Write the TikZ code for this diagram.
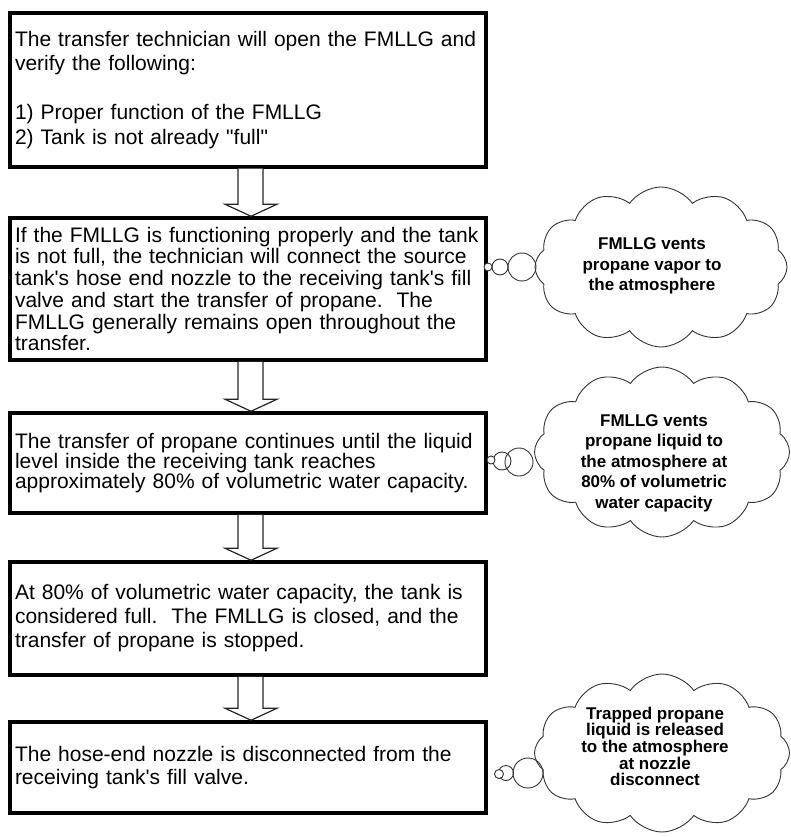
\documentclass[tikz,border=0pt]{standalone}
\usepackage{fontspec}
\newfontfamily\arialf{Liberation Sans}
\usetikzlibrary{shapes.symbols,calc}
\tikzset{
  stepbox/.style={draw, line width=3.5pt, minimum width=476pt, inner xsep=5pt, inner ysep=0pt,
    text width=466pt, align=left, anchor=center},
  boxfont/.style={font=\arialf\fontsize{21}{#1}\selectfont},
  barrow/.style={draw=black!85, line width=1.2pt, fill=white, line join=miter},
  cloudshape/.style={cloud, draw=black!80, line width=0.9pt, cloud puffs=12, cloud puff arc=110,
    cloud ignores aspect, inner sep=0pt},
  cloudtext/.style={align=center, inner sep=0pt, font=\arialf\bfseries\fontsize{17}{#1}\selectfont},
  bub/.style={circle, draw=black!80, line width=0.9pt, inner sep=0pt},
}
\newcommand\bkarrow[2]{%
  \draw[barrow] ($(#1.south)+(-10,0)$) -- ($(#2.north)+(-10,-12)$) -- ($(#2.north)+(-23,-12)$)
    -- ($(#2.north)+(3,0)$) -- ($(#2.north)+(29,-12)$) -- ($(#2.north)+(15,-12)$)
    -- ($(#1.south)+(15,0)$);}
\begin{document}
\begin{tikzpicture}[x=1pt,y=-1pt]
\useasboundingbox (0,0) rectangle (791,837);

\node[stepbox, boxfont=24.5, minimum height=154pt] (b1) at (248,90)
  {The transfer technician will open the FMLLG and\\
   verify the following:\\
   \mbox{}\\
   1) Proper function of the FMLLG\\
   2) Tank is not already "full"};
\node[stepbox, boxfont=21.7, minimum height=142pt] (b2) at (248,289)
  {If the FMLLG is functioning properly and the tank\\
   is not full, the technician will connect the source\\
   tank's hose end nozzle to the receiving tank's fill\\
   valve and start the transfer of propane.\ \ The\\
   FMLLG generally remains open throughout the\\
   transfer.};
\node[stepbox, boxfont=20, minimum height=100pt] (b3) at (248,463)
  {The transfer of propane continues until the liquid\\
   level inside the receiving tank reaches\\
   approximately 80\% of volumetric water capacity.};
\node[stepbox, boxfont=24, minimum height=113pt] (b4) at (248,618.5)
  {At 80\% of volumetric water capacity, the tank is\\
   considered full.\ \ The FMLLG is closed, and the\\
   transfer of propane is stopped.};
\node[stepbox, boxfont=23.5, minimum height=91pt] (b5) at (248,767.5)
  {The hose-end nozzle is disconnected from the\\
   receiving tank's fill valve.};

\bkarrow{b1}{b2}
\bkarrow{b2}{b3}
\bkarrow{b3}{b4}
\bkarrow{b4}{b5}

% clouds
\node[cloudshape, minimum width=252pt, minimum height=160pt] (c1) at (661,267) {};
\node[cloudtext=20.5] (t1) at (652,266) {FMLLG vents\\propane vapor to\\the atmosphere};
\node[bub, minimum size=28pt] (c1c) at (522,267) {};
\node[bub, minimum size=16pt] (c1b) at (500,267) {};
\node[bub, fill=white, minimum size=8pt] (c1a) at (488,267) {};

\node[cloudshape, minimum width=255pt, minimum height=170pt] (c2) at (662,452) {};
\node[cloudtext=20.5] (t2) at (654,463) {FMLLG vents\\propane liquid to\\the atmosphere at\\80\% of volumetric\\water capacity};
\node[bub, minimum size=28pt] (c2c) at (519,462) {};
\node[bub, minimum size=18pt] (c2b) at (502,461) {};
\node[bub, fill=white, minimum size=8pt] (c2a) at (491,460) {};

\node[cloudshape, minimum width=255pt, minimum height=158pt] (c3) at (662,753) {};
\node[cloudtext=15.5] (t3) at (655,746) {Trapped propane\\liquid is released\\to the atmosphere\\at nozzle\\disconnect};
\node[bub, minimum size=30pt] (c3c) at (528,773) {};
\node[bub, minimum size=15pt] (c3b) at (506,773) {};
\node[bub, fill=white, minimum size=9pt] (c3a) at (499,774) {};
\end{tikzpicture}
\end{document}
